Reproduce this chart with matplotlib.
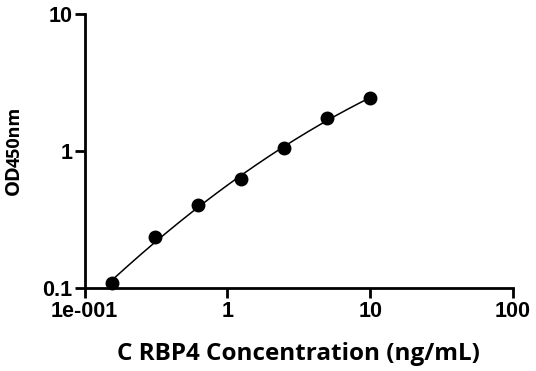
import numpy as np
import matplotlib
matplotlib.use("Agg")
import matplotlib.pyplot as plt
from matplotlib.ticker import FixedLocator, FixedFormatter, NullLocator

#data
conc = [0.156, 0.3125, 0.625, 1.25, 2.5, 5, 10]
od = [0.109, 0.234, 0.404, 0.621, 1.05, 1.74, 2.45]
xticks = [0.1, 1, 10, 100]
xtick_labels = ['1e-001', '1', '10', '100']
yticks = [0.1, 1, 10]
ytick_labels = ['0.1', '1', '10']

plt.rcParams['font.family'] = ['Liberation Sans', 'DejaVu Sans']

fig = plt.figure(figsize=(5.36, 3.71), dpi=100)
ax = fig.add_axes([0.158, 0.2237, 0.799, 0.7383])

#smooth fit in log-log space
lx, ly = np.log10(conc), np.log10(od)
coef = np.polyfit(lx, ly, 2)
xs = np.linspace(lx[0], lx[-1], 200)
ax.plot(10**xs, 10**np.polyval(coef, xs), color='black', lw=1.1, zorder=2)
ax.plot(conc, od, 'o', color='black', ms=9, zorder=3, clip_on=False)

ax.set_xscale('log')
ax.set_yscale('log')
ax.set_xlim(0.1, 100)
ax.set_ylim(0.1, 10)
ax.xaxis.set_major_locator(FixedLocator(xticks))
ax.xaxis.set_major_formatter(FixedFormatter(xtick_labels))
ax.yaxis.set_major_locator(FixedLocator(yticks))
ax.yaxis.set_major_formatter(FixedFormatter(ytick_labels))
ax.xaxis.set_minor_locator(NullLocator())
ax.yaxis.set_minor_locator(NullLocator())

for s in ['top', 'right']:
    ax.spines[s].set_visible(False)
for s in ['left', 'bottom']:
    ax.spines[s].set_linewidth(2)
ax.tick_params(width=2, length=7, labelsize=15.5, pad=2)
for lab in ax.get_xticklabels() + ax.get_yticklabels():
    lab.set_fontweight('bold')

ax.set_xlabel('C RBP4 Concentration (ng/mL)', fontsize=17.5, fontweight='bold',
              family='Open Sans', labelpad=15)

#y label: OD with smaller 450nm
fig.text(13.5/536, 1-195/371, 'OD', rotation=90, ha='center', va='bottom',
         fontsize=14.5, fontweight='bold', family='Open Sans')
fig.text(14.5/536, 1-167/371, '450nm', rotation=90, ha='center', va='bottom',
         fontsize=13, fontweight='bold', family='Open Sans')

fig.savefig('out.png', dpi=100)
